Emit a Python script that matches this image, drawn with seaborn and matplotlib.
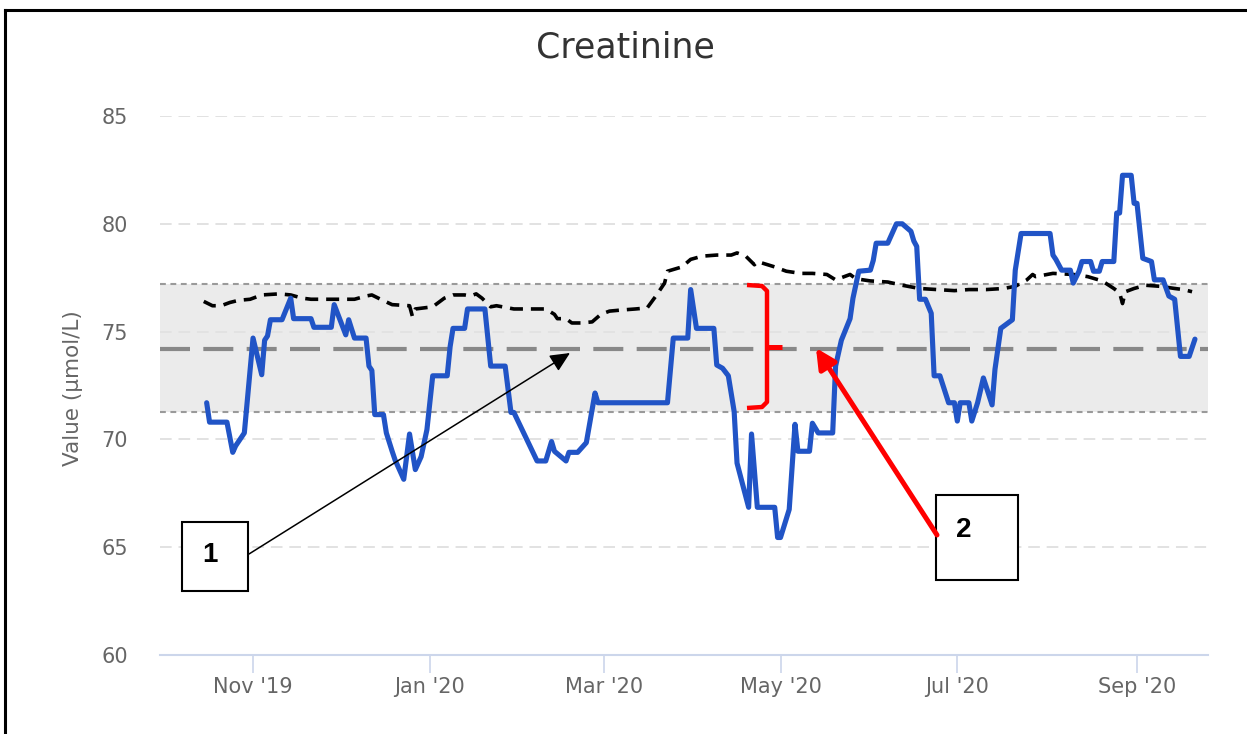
import matplotlib
matplotlib.use("Agg")
import matplotlib.pyplot as plt
import matplotlib.dates as mdates
from matplotlib.patches import Rectangle
import seaborn as sns
import pandas as pd
import numpy as np

# ---------------- data ----------------
START = pd.Timestamp("2019-11-01")

# creatinine measurements: days since 2019-11-01 and value (µmol/L)
blue_day = [-16, -15, -9, -7, -6, -3, 0, 3, 4, 5,
            6, 10, 13, 14, 20, 21, 27, 28, 32, 33,
            35, 39, 40, 41, 42, 45, 46, 48, 49, 52,
            54, 56, 58, 60, 62, 67, 68, 69, 73, 74,
            80, 82, 87, 89, 90, 95, 98, 101, 103, 104,
            108, 109, 112, 115, 118, 119, 143, 145, 150, 151,
            153, 159, 160, 162, 164, 166, 167, 171, 172, 174,
            180, 181, 182, 185, 187, 188, 192, 193, 195, 200,
            201, 203, 206, 207, 209, 213, 214, 215, 219, 222,
            224, 227, 228, 229, 230, 232, 234, 235, 237, 240,
            242, 243, 244, 247, 248, 250, 252, 255, 256, 258,
            262, 263, 265, 275, 276, 277, 279, 282, 283, 285,
            286, 289, 290, 292, 293, 297, 298, 299, 300, 303,
            304, 305, 307, 310, 311, 314, 316, 318, 320, 323,
            325]
blue_val = [71.7, 70.8, 70.8, 69.4, 69.7, 70.3, 74.7, 73.0, 74.6, 74.8,
            75.55, 75.55, 76.55, 75.6, 75.6, 75.2, 75.2, 76.25, 74.85, 75.55,
            74.7, 74.7, 73.4, 73.2, 71.15, 71.15, 70.3, 69.45, 69.05, 68.15,
            70.25, 68.6, 69.2, 70.45, 72.95, 72.95, 74.3, 75.15, 75.15, 76.05,
            76.05, 73.4, 73.4, 71.25, 71.25, 69.85, 69.0, 69.0, 69.9, 69.45,
            69.0, 69.4, 69.4, 69.85, 72.15, 71.7, 71.7, 74.7, 74.7, 76.95,
            75.15, 75.15, 73.45, 73.3, 72.95, 71.3, 68.9, 66.85, 70.25, 66.85,
            66.85, 65.45, 65.45, 66.75, 70.7, 69.45, 69.45, 70.75, 70.3, 70.3,
            73.4, 74.6, 75.6, 76.55, 77.8, 77.85, 78.3, 79.1, 79.1, 80.0,
            80.0, 79.65, 79.2, 78.95, 76.5, 76.5, 75.85, 72.95, 72.95, 71.7,
            71.7, 70.85, 71.7, 71.7, 70.85, 71.7, 72.85, 71.6, 73.25, 75.15,
            75.55, 77.85, 79.55, 79.55, 78.55, 78.35, 77.85, 77.85, 77.25, 77.8,
            78.25, 78.25, 77.8, 77.8, 78.25, 78.25, 80.5, 80.5, 82.25, 82.25,
            80.95, 80.95, 78.4, 78.25, 77.4, 77.4, 76.65, 76.5, 73.85, 73.85,
            74.65]

# dashed black trend line
trend_day = [-17, -14, -11, -8, -5, -1, 3, 9, 13, 17,
             20, 26, 35, 39, 41, 44, 48, 54, 55, 56,
             62, 66, 69, 73, 75, 77, 79, 82, 84, 90,
             101, 104, 105, 108, 110, 113, 117, 120, 123, 127,
             132, 136, 139, 142, 143, 148, 151, 155, 160, 165,
             167, 170, 173, 174, 180, 184, 189, 193, 198, 201,
             206, 208, 213, 219, 224, 230, 236, 242, 247, 253,
             259, 263, 267, 269, 270, 276, 283, 288, 293, 297,
             299, 300, 301, 304, 308, 313, 318, 321, 324]
trend_val = [76.4, 76.2, 76.2, 76.35, 76.45, 76.5, 76.7, 76.75, 76.7, 76.55,
             76.5, 76.5, 76.5, 76.65, 76.7, 76.5, 76.25, 76.2, 75.7, 76.05,
             76.15, 76.55, 76.7, 76.7, 76.65, 76.75, 76.55, 76.15, 76.2, 76.05,
             76.05, 75.8, 75.6, 75.6, 75.4, 75.4, 75.45, 75.8, 75.95, 76.0,
             76.05, 76.1, 76.65, 77.25, 77.8, 78.0, 78.35, 78.5, 78.55, 78.55,
             78.65, 78.5, 78.1, 78.25, 78.0, 77.8, 77.7, 77.7, 77.65, 77.4,
             77.65, 77.45, 77.35, 77.3, 77.15, 77.0, 76.95, 76.9, 76.95, 76.95,
             77.0, 77.1, 77.4, 77.65, 77.55, 77.7, 77.65, 77.55, 77.35, 77.0,
             76.8, 76.3, 76.85, 77.0, 77.15, 77.1, 77.0, 76.95, 76.85]

ref_low, ref_mid, ref_high = 71.25, 74.2, 77.2
y_ticks = [60, 65, 70, 75, 80, 85]
x_tick_dates = ["2019-11-01", "2020-01-01", "2020-03-01", "2020-05-01",
                "2020-07-01", "2020-09-01"]
x_tick_labels = ["Nov '19", "Jan '20", "Mar '20", "May '20", "Jul '20", "Sep '20"]
title_text = "Creatinine"
ylabel_text = "Value (µmol/L)"
box_labels = ["1", "2"]

# ---------------- figure ----------------
sns.set_theme(style="white")
plt.rcParams["font.family"] = ["DejaVu Sans"]

W, H = 1247, 734
fig = plt.figure(figsize=(W / 100, H / 100), dpi=100)
fig.patch.set_facecolor("white")


def fx(px):
    return px / W


def fy(py):
    return 1 - py / H


ax = fig.add_axes([fx(160), fy(655), fx(1208) - fx(160), fy(116) - fy(655)])
ax.set_facecolor("white")

blue_df = pd.DataFrame({"date": START + pd.to_timedelta(blue_day, unit="D"),
                        "value": blue_val})
trend_df = pd.DataFrame({"date": START + pd.to_timedelta(trend_day, unit="D"),
                         "value": trend_val})

# reference band and lines
ax.axhspan(ref_low, ref_high, color="#ebebeb", lw=0, zorder=0)
for y in y_ticks[1:]:
    ax.axhline(y, color="#e2e2e2", lw=1.4, ls=(0, (6, 3.5)), zorder=0.5)
for y in (ref_low, ref_high):
    ax.axhline(y, color="#9a9a9a", lw=1.5, ls=(0, (2.8, 2.2)), zorder=0.8)
ax.axhline(ref_mid, color="#888888", lw=3, ls=(0, (7.2, 3.2)), zorder=0.9)

sns.lineplot(data=trend_df, x="date", y="value", ax=ax, color="black",
             lw=2.6, estimator=None, sort=False, zorder=2)
ax.get_lines()[-1].set_linestyle((0, (3.6, 2.2)))
sns.lineplot(data=blue_df, x="date", y="value", ax=ax, color="#2154c6",
             lw=3.7, estimator=None, sort=False, zorder=3)

ax.set_ylim(60, 85)
ax.set_xlim(START + pd.Timedelta(days=-32.1), START + pd.Timedelta(days=329.5))
ax.set_yticks(y_ticks)
ax.set_yticklabels([str(v) for v in y_ticks])
ax.set_xticks(mdates.date2num(pd.to_datetime(x_tick_dates)))
ax.set_xticklabels(x_tick_labels)
ax.set_xlabel("")
ax.set_ylabel("")
ax.grid(False)
for s in ("top", "right", "left"):
    ax.spines[s].set_visible(False)
ax.spines["bottom"].set_color("#ccd6eb")
ax.spines["bottom"].set_linewidth(1.5)
ax.tick_params(axis="x", length=13, width=1.2, color="#ccd6eb", pad=3,
               labelsize=15, labelcolor="#666666", direction="out", bottom=True)
ax.tick_params(axis="y", length=0, pad=23, labelsize=15, labelcolor="#666666")

fig.text(fx(625), fy(58), title_text, ha="center", va="baseline",
         fontsize=25, color="#333333")
fig.text(fx(73), fy(388), ylabel_text, ha="center", va="center",
         rotation=90, fontsize=15.5, color="#666666")

# ---------------- annotation overlay ----------------
ov = fig.add_axes([0, 0, 1, 1], zorder=10)
ov.set_xlim(0, W)
ov.set_ylim(H, 0)
ov.axis("off")
ov.patch.set_alpha(0)

# frame (top and left edges)
ov.plot([5, 5], [H + 5, 10], color="black", lw=2.2, solid_capstyle="projecting",
        clip_on=False)
ov.plot([5, W + 10], [10, 10], color="black", lw=2.2, solid_capstyle="projecting",
        clip_on=False)

# box 1 and its arrow
ov.add_patch(Rectangle((182, 522), 66, 69, fc="white", ec="black", lw=1.5))
ov.text(210, 555, box_labels[0], ha="center", va="center", fontsize=20,
        fontweight="bold", family="Liberation Sans", color="black")
ov.annotate("", xy=(570, 353), xytext=(249, 554),
            arrowprops=dict(arrowstyle="-|>,head_length=0.6,head_width=0.28",
                            mutation_scale=20, lw=1.1, color="black",
                            shrinkA=0, shrinkB=0))

# box 2 and its arrow
ov.add_patch(Rectangle((936, 495), 82, 85, fc="white", ec="black", lw=1.5))
ov.text(964, 530, box_labels[1], ha="center", va="center", fontsize=20,
        fontweight="bold", family="Liberation Sans", color="black")
ov.annotate("", xy=(816, 348), xytext=(937, 535),
            arrowprops=dict(arrowstyle="-|>,head_length=0.6,head_width=0.3",
                            mutation_scale=20, lw=3.6, color="#ff0000",
                            shrinkA=0, shrinkB=0))

# red bracket
ov.plot([747, 762, 767, 767, 762, 747], [285, 286, 291, 402, 407, 408],
        color="#ff0000", lw=3.2, solid_joinstyle="round", solid_capstyle="butt")
ov.plot([767, 782], [347, 347], color="#ff0000", lw=3.6, solid_capstyle="butt")

fig.savefig("out.png", dpi=100, facecolor="white")
